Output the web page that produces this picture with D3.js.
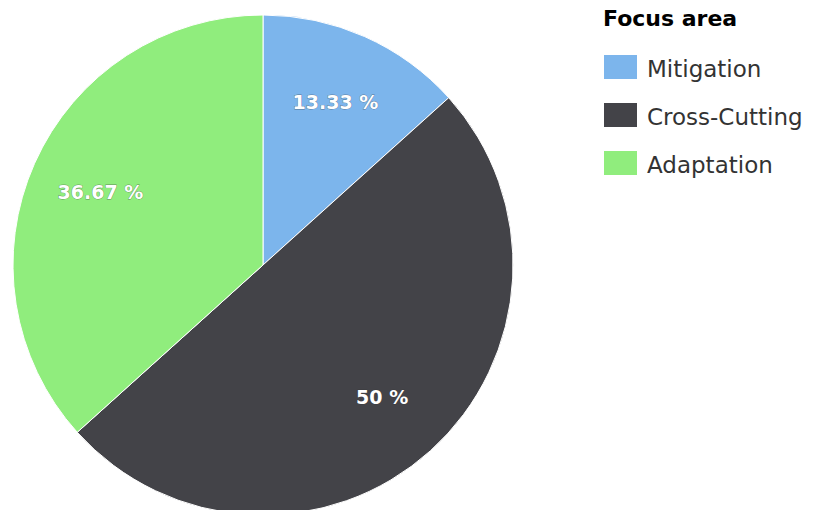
<!DOCTYPE html>
<html>
<head>
<meta charset="utf-8">
<style>
  body { margin: 0; background: #fff; }
  text { font-family: "DejaVu Sans", Verdana, sans-serif; }
  .lbl { font-size: 19px; font-weight: bold; fill: #fff; stroke: #333; stroke-width: 0.8px; stroke-opacity: 0.5; paint-order: stroke; }
  .leg { font-size: 23px; fill: #333; }
  .legtitle { font-size: 22px; font-weight: bold; fill: #000; }
</style>
<script src="https://d3js.org/d3.v7.min.js"></script>
</head>
<body>
<div id="chart"></div>
<script>
var categories = ["Mitigation", "Cross-Cutting", "Adaptation"];
var values = [13.33, 50, 36.67];
var colors = ["#7cb5ec", "#434348", "#90ed7d"];

var width = 815, height = 510;
var cx = 263, cy = 265, radius = 250;

var svg = d3.select("#chart").append("svg")
    .attr("width", width)
    .attr("height", height);

var data = categories.map(function(c, i) { return { name: c, value: values[i] }; });

var pie = d3.pie().sort(null).value(function(d) { return d.value; });
var arc = d3.arc().innerRadius(0).outerRadius(radius);
var labelArc = d3.arc().innerRadius(178).outerRadius(178);

var g = svg.append("g").attr("transform", "translate(" + cx + "," + cy + ")");

var slices = g.selectAll("g.slice")
  .data(pie(data))
  .enter().append("g").attr("class", "slice");

slices.append("path")
  .attr("d", arc)
  .attr("fill", function(d, i) { return colors[i]; })
  .attr("stroke", "#fff")
  .attr("stroke-width", 1);

slices.append("text")
  .attr("class", "lbl")
  .attr("transform", function(d) { return "translate(" + labelArc.centroid(d) + ")"; })
  .attr("text-anchor", "middle")
  .attr("dy", "0.36em")
  .text(function(d) { return d3.format("~g")(d.data.value) + " %"; });

// legend
var legend = svg.append("g").attr("transform", "translate(603,0)");
legend.append("text")
  .attr("class", "legtitle")
  .attr("x", 0)
  .attr("y", 26)
  .text("Focus area");

var items = legend.selectAll("g.item")
  .data(categories)
  .enter().append("g")
  .attr("class", "item")
  .attr("transform", function(d, i) { return "translate(0," + (55 + i * 48) + ")"; });

items.append("rect")
  .attr("x", 1)
  .attr("width", 33)
  .attr("height", 24)
  .attr("fill", function(d, i) { return colors[i]; });

items.append("text")
  .attr("class", "leg")
  .attr("x", 44)
  .attr("y", 22)
  .text(function(d) { return d; });
</script>
</body>
</html>
